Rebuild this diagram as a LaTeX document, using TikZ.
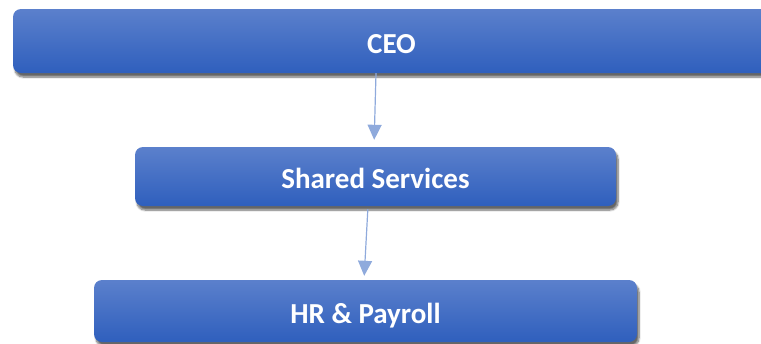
\documentclass[tikz,border=0pt]{standalone}
\usepackage{fontspec}
\setmainfont{Carlito}
\usetikzlibrary{arrows.meta,calc,positioning,shadows.blur}
\definecolor{BoxTop}{HTML}{5B80CC}
\definecolor{BoxBottom}{HTML}{2F5FBD}
\definecolor{LinkBlue}{HTML}{8FAADC}
\tikzset{
  every node/.style={font=\bfseries\fontsize{29}{33}\selectfont, text=white},
  unit/.style={rounded corners=8pt, top color=BoxTop, bottom color=BoxBottom,
    draw=none, inner sep=0pt, text height=24.5pt, text depth=0pt,
    blur shadow={shadow xshift=2pt, shadow yshift=-4pt, shadow blur steps=8,
      shadow opacity=60, shadow blur extra rounding=2pt}},
  link/.style={-{Triangle[length=15pt,width=14pt]}, draw=LinkBlue, line width=1.2pt},
}
\begin{document}
\begin{tikzpicture}[x=1pt,y=-1pt]
  \useasboundingbox (0,0) rectangle (761,343);
  \begin{scope}
    \clip (0,0) rectangle (761,343);
    % Boxes, top to bottom
    \node[unit, minimum width=757pt, minimum height=64pt] (ceo) at (391.5,41) {CEO};
    \node[unit, minimum width=481pt, minimum height=59pt] (shared) at (375.5,176.5) {Shared Services};
    \node[unit, minimum width=543pt, minimum height=62pt] (hr) at (365.5,311) {HR \& Payroll};
    % Reporting lines
    \draw[link, shorten >=7pt] ([xshift=-15.5pt]ceo.south) -- ([xshift=-1.5pt]shared.north);
    \draw[link, shorten <=3pt, shorten >=4pt] ([xshift=-7.5pt]shared.south) -- ([xshift=-1.5pt]hr.north);
  \end{scope}
\end{tikzpicture}
\end{document}
